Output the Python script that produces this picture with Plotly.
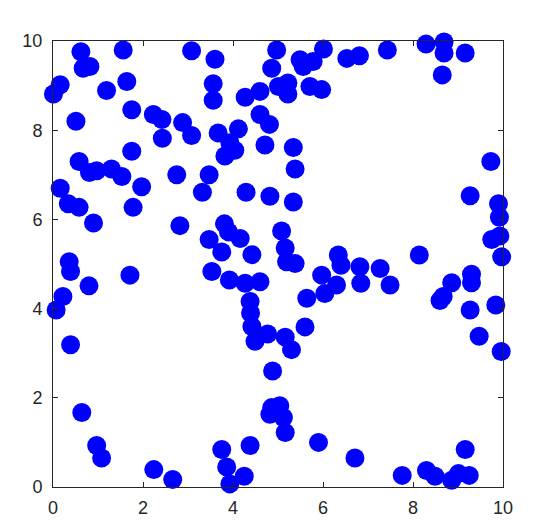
import plotly.graph_objects as go

# Coordenadas
x_vals = [
    0.62, 0.67, 0.82, 1.56, 0.01, 0.16, 1.19, 1.64, 1.75, 0.51,
    2.23, 2.42, 2.88, 3.08, 2.43, 3.08, 3.60, 3.56, 3.56, 4.27,
    4.60, 4.97, 4.86, 5.01, 5.22, 5.22, 4.60, 4.81, 3.67, 4.12,
    3.93, 4.04, 3.82, 4.71, 1.75, 0.58, 0.81, 0.97, 1.30, 1.53,
    2.75, 3.47, 3.32, 1.97, 0.16, 0.34, 0.58, 1.78, 0.90, 4.29,
    4.82, 2.82, 3.81, 3.90, 4.16, 3.47, 3.75, 4.42, 5.08, 5.16,
    5.19, 5.38, 0.36, 0.39, 1.71, 0.80, 0.22, 0.07, 0.39, 0.64,
    0.97, 1.08, 2.24, 2.66, 3.53, 3.92, 4.27, 4.60, 4.38, 4.39,
    4.42, 4.49, 4.77, 5.16, 5.30, 4.88, 4.86, 5.04, 4.82, 5.12,
    5.16, 5.90, 4.38, 3.75, 3.86, 3.93, 4.25, 6.71, 7.76, 8.30,
    8.49, 8.86, 9.01, 9.25, 9.16, 5.49, 5.56, 5.78, 6.01, 6.53,
    6.81, 5.71, 5.97, 7.43, 8.29, 8.69, 8.69, 9.16, 8.65, 5.34,
    5.38, 5.34, 9.73, 9.27, 9.90, 9.92, 9.75, 9.93, 9.97, 6.34,
    6.40, 6.82, 7.27, 5.97, 6.30, 6.04, 5.64, 6.84, 7.49, 5.60,
    8.14, 8.86, 9.30, 9.30, 8.67, 8.60, 9.27, 9.84, 9.47, 9.96,
]
y_vals = [
    9.76, 9.39, 9.43, 9.80, 8.81, 9.02, 8.89, 9.09, 8.46, 8.20,
    8.35, 8.24, 8.17, 7.88, 7.82, 9.78, 9.59, 9.04, 8.67, 8.74,
    8.87, 9.80, 9.39, 8.98, 9.06, 8.81, 8.35, 8.13, 7.94, 8.03,
    7.72, 7.55, 7.42, 7.67, 7.53, 7.30, 7.05, 7.09, 7.13, 6.96,
    7.00, 7.00, 6.61, 6.73, 6.70, 6.35, 6.27, 6.27, 5.92, 6.61,
    6.52, 5.86, 5.90, 5.72, 5.57, 5.55, 5.27, 5.21, 5.74, 5.36,
    5.05, 5.01, 5.05, 4.83, 4.75, 4.51, 4.27, 3.97, 3.19, 1.67,
    0.93, 0.65, 0.39, 0.17, 4.83, 4.64, 4.57, 4.60, 4.16, 3.90,
    3.60, 3.27, 3.43, 3.36, 3.08, 2.60, 1.78, 1.82, 1.63, 1.56,
    1.22, 1.00, 0.93, 0.84, 0.45, 0.07, 0.24, 0.65, 0.26, 0.37,
    0.24, 0.15, 0.30, 0.26, 0.84, 9.58, 9.43, 9.54, 9.82, 9.61,
    9.67, 8.98, 8.91, 9.80, 9.93, 9.98, 9.73, 9.73, 9.24, 7.61,
    7.13, 6.39, 7.30, 6.53, 6.35, 6.05, 5.55, 5.63, 5.16, 5.20,
    4.97, 4.94, 4.90, 4.75, 4.53, 4.34, 4.23, 4.57, 4.53, 3.59,
    5.20, 4.58, 4.77, 4.58, 4.27, 4.18, 3.97, 4.08, 3.38, 3.04,
]
tick_vals = [0, 2, 4, 6, 8, 10]
tick_text = ["0", "2", "4", "6", "8", "10"]

fig = go.Figure()

fig.add_trace(
    go.Scatter(
        x=x_vals,
        y=y_vals,
        mode="markers",
        marker=dict(color="#0000ff", size=19, line=dict(width=0)),
        cliponaxis=False,
        showlegend=False,
    )
)

axis_style = dict(
    range=[0, 10],
    tickvals=tick_vals,
    ticktext=tick_text,
    ticks="inside",
    ticklen=5,
    tickcolor="#262626",
    showline=True,
    linecolor="#262626",
    linewidth=1,
    mirror="ticks",
    showgrid=False,
    zeroline=False,
    tickfont=dict(family="Liberation Sans, Arial", size=18, color="#262626"),
)

# a página tem 8px de margem no body, então o gráfico é um pouco menor
fig.update_layout(
    width=530,
    height=522,
    margin=dict(l=45, r=35, t=33, b=40),
    plot_bgcolor="white",
    paper_bgcolor="white",
    xaxis=dict(axis_style, ticklabelstandoff=4),
    yaxis=dict(axis_style, ticklabelstandoff=6),
)

fig.write_html("out.html")
